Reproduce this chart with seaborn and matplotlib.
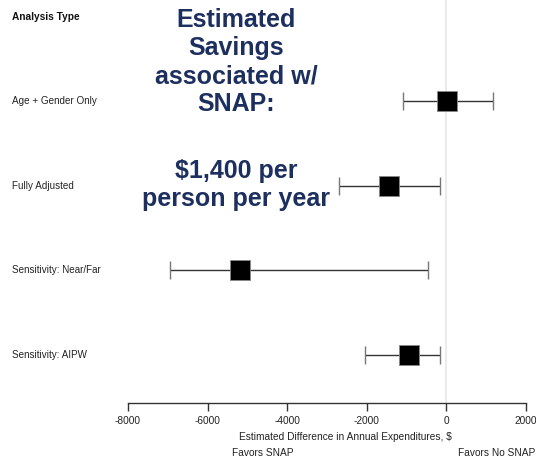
import matplotlib
matplotlib.use("Agg")
import matplotlib.pyplot as plt
import seaborn as sns
import pandas as pd

categories = ["Age + Gender Only", "Fully Adjusted", "Sensitivity: Near/Far", "Sensitivity: AIPW"]
estimates = [25, -1430, -5170, -930]
ci_low = [-1080, -2690, -6940, -2030]
ci_high = [1170, -150, -450, -160]
xticks = [-8000, -6000, -4000, -2000, 0, 2000]

sns.set_theme(style="white")
plt.rcParams['font.family'] = ['Liberation Sans', 'DejaVu Sans']

df = pd.DataFrame({"cat": categories, "est": estimates, "lo": ci_low, "hi": ci_high})
df["pos"] = range(len(df))

W, H = 536, 459
fig = plt.figure(figsize=(W / 100, H / 100), dpi=100)
ax_bottom_px = 403
ax = fig.add_axes([0, (H - ax_bottom_px) / H, 1, ax_bottom_px / H])

px_per_unit = 79.5 / 2000
zero_px = 446
ax.set_xlim(-zero_px / px_per_unit, (W - zero_px) / px_per_unit)
row0, rowstep = 101, 84.67
ax.set_ylim((ax_bottom_px - row0) / rowstep, -row0 / rowstep)

ax.axvline(0, color="#e8e8e8", lw=1.2, zorder=0)

ax.hlines(df["pos"], df["lo"], df["hi"], color="#333333", lw=1.0, zorder=1)
cap = 0.105
ax.vlines(df["lo"], df["pos"] - cap, df["pos"] + cap, color="#777777", lw=1.0, zorder=1)
ax.vlines(df["hi"], df["pos"] - cap, df["pos"] + cap, color="#777777", lw=1.0, zorder=1)

sns.scatterplot(data=df, x="est", y="pos", marker="s", s=190, color="black",
                edgecolor="#888888", linewidth=0.6, ax=ax, zorder=3, legend=False)

for s in ["top", "right", "left"]:
    ax.spines[s].set_visible(False)
ax.spines["bottom"].set_bounds(xticks[0], xticks[-1])
ax.spines["bottom"].set_color("#333333")
ax.spines["bottom"].set_linewidth(1.0)
ax.set_xticks(xticks)
ax.set_xticklabels([str(t) for t in xticks], fontsize=7.3, color="#222222")
ax.tick_params(axis="x", direction="out", length=6, width=1, color="#333333", pad=3, bottom=True)
ax.set_yticks([])
ax.set_xlabel("")
ax.set_ylabel("")

for i, c in enumerate(categories):
    ax.text(12 / W, 1 - (row0 + rowstep * i) / ax_bottom_px, c, transform=ax.transAxes,
            fontsize=7.1, color="#222222", ha="left", va="center")

fig.text(12 / W, 1 - 17 / H, "Analysis Type", fontsize=7.3, fontweight="bold",
         color="#111111", ha="left", va="center")

fig.text(345 / W, 1 - 437 / H, "Estimated Difference in Annual Expenditures, $",
         fontsize=7.3, color="#222222", ha="center", va="center")
fig.text(263 / W, 1 - 453 / H, "Favors SNAP", fontsize=7.3, color="#222222", ha="center", va="center")
fig.text(497 / W, 1 - 453 / H, "Favors No SNAP", fontsize=7.3, color="#222222", ha="center", va="center")

navy = "#1c2f5e"
fig.text(236 / W, 1 - 62 / H, "Estimated\nSavings\nassociated w/\nSNAP:", fontsize=18,
         fontweight="bold", color=navy, ha="center", va="center", linespacing=1.22)
fig.text(236 / W, 1 - 185 / H, "$1,400 per\nperson per year", fontsize=18,
         fontweight="bold", color=navy, ha="center", va="center", linespacing=1.22)

fig.savefig("out.png", dpi=100)
